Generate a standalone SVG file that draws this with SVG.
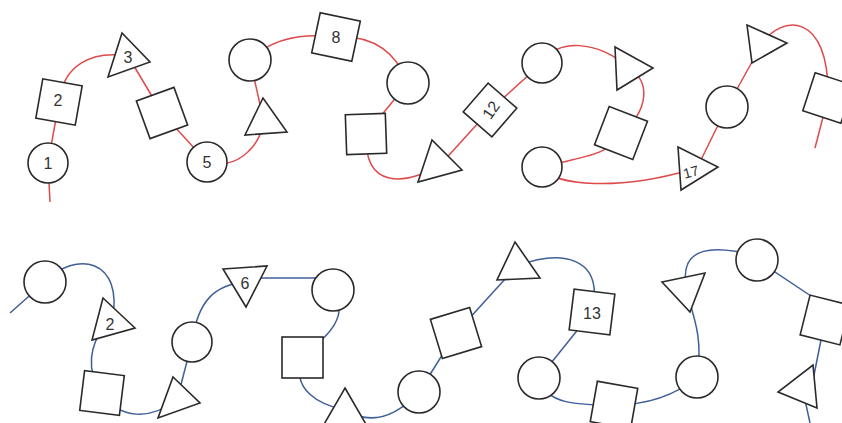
<svg xmlns="http://www.w3.org/2000/svg" width="842" height="423" viewBox="0 0 842 423">
<style>
.bg{fill:#ffffff}
.r{fill:none;stroke:#df4a4a;stroke-width:1.5}
.b{fill:none;stroke:#3f5f98;stroke-width:1.5}
.s{fill:#ffffff;stroke:#2a2a2a;stroke-width:1.6}
.t{font-family:"Liberation Sans",Arial,sans-serif;font-size:16px;fill:#333333;text-anchor:middle;dominant-baseline:central}
</style>
<rect class="bg" x="0" y="0" width="842" height="423"/>
<g id="connectors">
<path class="r" d="M50,202 L48,163"/>
<path class="r" d="M48,163 L59,102"/>
<path class="r" d="M59,102 C63,65 92,50 128,56"/>
<path class="r" d="M128,56 L162,113"/>
<path class="r" d="M162,113 L207,162"/>
<path class="r" d="M207,162 C235,170 258,150 264,122"/>
<path class="r" d="M264,122 L250,60"/>
<path class="r" d="M250,60 C268,42 295,32 336,37"/>
<path class="r" d="M336,37 C370,35 395,50 408,83"/>
<path class="r" d="M408,83 L366,134"/>
<path class="r" d="M366,134 C364,190 405,185 440,165"/>
<path class="r" d="M440,165 L490,110"/>
<path class="r" d="M490,110 L542,63"/>
<path class="r" d="M542,63 C555,38 600,40 628,68"/>
<path class="r" d="M628,68 C652,80 648,112 621,133"/>
<path class="r" d="M621,133 C612,156 575,158 542,167"/>
<path class="r" d="M542,167 C555,187 620,190 690,170"/>
<path class="r" d="M695,172 L727,107"/>
<path class="r" d="M727,107 L762,44"/>
<path class="r" d="M762,44 C780,15 830,10 828,98"/>
<path class="r" d="M828,98 L815,148"/>
<path class="b" d="M10,313 L45,282"/>
<path class="b" d="M45,282 C75,250 125,258 112,322"/>
<path class="b" d="M105,325 C90,345 85,370 102,393"/>
<path class="b" d="M102,393 C120,420 150,420 177,400"/>
<path class="b" d="M177,400 L192,342"/>
<path class="b" d="M192,342 C198,300 215,285 245,282"/>
<path class="b" d="M245,278 L320,278"/>
<path class="b" d="M333,290 C350,315 330,335 302,357"/>
<path class="b" d="M302,357 C290,390 320,405 345,410"/>
<path class="b" d="M345,410 C370,425 395,418 419,392"/>
<path class="b" d="M419,392 L456,333"/>
<path class="b" d="M456,333 L517,266"/>
<path class="b" d="M517,266 C560,250 605,255 592,312"/>
<path class="b" d="M592,312 L539,378"/>
<path class="b" d="M539,378 C545,405 580,405 613,405"/>
<path class="b" d="M613,405 C640,405 670,400 697,377"/>
<path class="b" d="M697,377 C703,340 695,320 686,290"/>
<path class="b" d="M686,285 C680,245 715,245 757,256"/>
<path class="b" d="M757,260 L820,302"/>
<path class="b" d="M825,320 L812,385"/>
<path class="b" d="M805,400 L810,423"/>
</g>
<g id="n1"><circle class="s" cx="48" cy="163" r="20"/><text class="t" x="48" y="163">1</text></g>
<g id="n2"><rect class="s" x="-20" y="-20" width="40" height="40" transform="translate(59,102) rotate(10)"/><text class="t" x="58" y="100">2</text></g>
<g id="n3"><polygon class="s" points="122,33 108,77 150,62"/><text class="t" x="128" y="57">3</text></g>
<g id="n4"><rect class="s" x="-20" y="-20" width="40" height="40" transform="translate(162,113) rotate(-20)"/></g>
<g id="n5"><circle class="s" cx="207" cy="162" r="20"/><text class="t" x="207" y="162">5</text></g>
<g id="n6"><polygon class="s" points="263,98 245,135 287,132"/></g>
<g id="n7"><circle class="s" cx="250" cy="60" r="21"/></g>
<g id="n8"><rect class="s" x="-20.5" y="-20.5" width="41" height="41" transform="translate(336,37) rotate(12)"/><text class="t" x="336" y="37">8</text></g>
<g id="n9"><circle class="s" cx="408" cy="83" r="21"/></g>
<g id="n10"><rect class="s" x="-20" y="-20" width="40" height="40" transform="translate(366,134) rotate(-2)"/></g>
<g id="n11"><polygon class="s" points="432,140 418,182 462,170"/></g>
<g id="n12"><rect class="s" x="-19" y="-19" width="38" height="38" transform="translate(490,110) rotate(41)"/><text class="t" x="0" y="0" transform="translate(491,110) rotate(-55)">12</text></g>
<g id="n13"><circle class="s" cx="542" cy="63" r="20"/></g>
<g id="n14"><polygon class="s" points="615,47 653,68 617,90"/></g>
<g id="n15"><rect class="s" x="-20.5" y="-20.5" width="41" height="41" transform="translate(621,133) rotate(21)"/></g>
<g id="n16"><circle class="s" cx="542" cy="167" r="20"/></g>
<g id="n17"><polygon class="s" points="678,147 718,167 681,190"/><text class="t" x="0" y="0" transform="translate(691,172) rotate(-15)" style="font-size:14px">17</text></g>
<g id="n18"><circle class="s" cx="727" cy="107" r="21"/></g>
<g id="n19"><polygon class="s" points="747,25 787,43 752,63"/></g>
<g id="n20"><rect class="s" x="-20" y="-20" width="40" height="40" transform="translate(828,98) rotate(18)"/></g>
<g id="m1"><circle class="s" cx="45" cy="282" r="21"/></g>
<g id="m2"><polygon class="s" points="103,298 135,328 92,340"/><text class="t" x="110" y="324">2</text></g>
<g id="m3"><rect class="s" x="-20" y="-20" width="40" height="40" transform="translate(102,393) rotate(7)"/></g>
<g id="m4"><polygon class="s" points="173,377 200,403 158,418"/></g>
<g id="m5"><circle class="s" cx="192" cy="342" r="20"/></g>
<g id="m6"><polygon class="s" points="223,269 267,266 246,307"/><text class="t" x="245" y="283">6</text></g>
<g id="m7"><circle class="s" cx="333" cy="290" r="21"/></g>
<g id="m8"><rect class="s" x="282" y="337" width="41" height="41"/></g>
<g id="m9"><polygon class="s" points="345,388 367,426 323,426"/></g>
<g id="m10"><circle class="s" cx="419" cy="392" r="21"/></g>
<g id="m11"><rect class="s" x="-20.5" y="-20.5" width="41" height="41" transform="translate(456,333) rotate(-17)"/></g>
<g id="m12"><polygon class="s" points="515,242 540,278 497,280"/></g>
<g id="m13"><rect class="s" x="-20.5" y="-20.5" width="41" height="41" transform="translate(592,312) rotate(7)"/><text class="t" x="592" y="313">13</text></g>
<g id="m14"><circle class="s" cx="539" cy="378" r="21"/></g>
<g id="m15"><rect class="s" x="-20.5" y="-20.5" width="41" height="41" transform="translate(614,405) rotate(10)"/></g>
<g id="m16"><circle class="s" cx="697" cy="377" r="21"/></g>
<g id="m17"><polygon class="s" points="662,282 705,273 690,312"/></g>
<g id="m18"><circle class="s" cx="757" cy="260" r="21"/></g>
<g id="m19"><rect class="s" x="-20.5" y="-20.5" width="41" height="41" transform="translate(825,320) rotate(14)"/></g>
<g id="m20"><polygon class="s" points="813,365 817,408 778,392"/></g>
</svg>
